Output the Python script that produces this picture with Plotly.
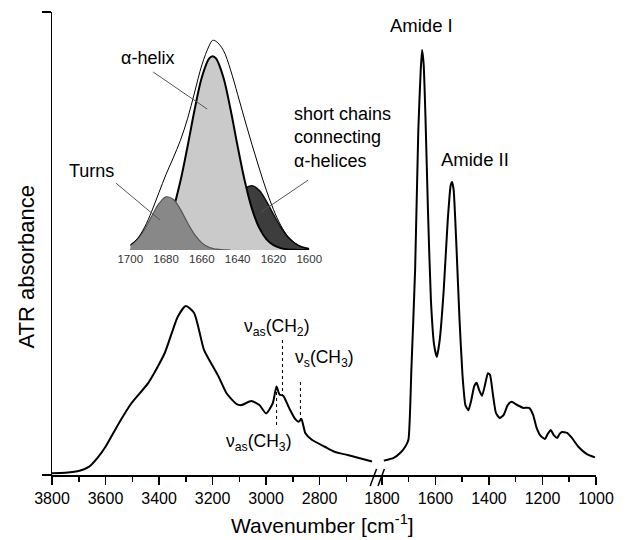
import numpy as np
import plotly.graph_objects as go

# ---------------- data ----------------
# left part of spectrum (3800 - 2600 cm-1)
wn_left = [3800, 3750, 3697, 3661, 3630, 3600, 3550, 3502, 3440, 3379, 3330, 3300,
           3269, 3232, 3209, 3177, 3147, 3110, 3092, 3055, 3025, 3000, 2975, 2961,
           2950, 2936, 2914, 2890, 2878, 2868, 2853, 2829, 2780, 2743, 2695, 2604]
abs_left = [0.004, 0.005, 0.009, 0.018, 0.037, 0.061, 0.112, 0.156, 0.199, 0.263, 0.342, 0.365,
            0.350, 0.270, 0.245, 0.212, 0.176, 0.153, 0.151, 0.160, 0.151, 0.133, 0.155, 0.191,
            0.174, 0.171, 0.145, 0.120, 0.115, 0.121, 0.090, 0.076, 0.061, 0.050, 0.043, 0.029]

# right part of spectrum (1800 - 1000 cm-1)
wn_right = [1793, 1756, 1731, 1713, 1701, 1690, 1676, 1664, 1655, 1650, 1644, 1637, 1628,
            1617, 1605, 1595, 1584, 1569, 1554, 1543, 1538, 1532, 1521, 1510, 1499, 1488,
            1477, 1466, 1455, 1446, 1437, 1426, 1415, 1404, 1396, 1385, 1374, 1360, 1345,
            1330, 1316, 1294, 1272, 1250, 1235, 1222, 1206, 1191, 1180, 1169, 1158, 1145,
            1136, 1127, 1108, 1090, 1066, 1034, 1004]
abs_right = [0.031, 0.037, 0.048, 0.061, 0.076, 0.227, 0.443, 0.745, 0.875, 0.918, 0.886, 0.767, 0.572,
             0.378, 0.281, 0.255, 0.292, 0.400, 0.551, 0.626, 0.633, 0.616, 0.486, 0.335, 0.216, 0.151,
             0.140, 0.162, 0.192, 0.199, 0.184, 0.171, 0.194, 0.220, 0.216, 0.173, 0.134, 0.123, 0.130,
             0.151, 0.158, 0.151, 0.145, 0.145, 0.130, 0.102, 0.084, 0.078, 0.089, 0.097, 0.086, 0.080,
             0.089, 0.093, 0.091, 0.080, 0.061, 0.045, 0.038]

# inset: band components of Amide I
wn_inset = [1700, 1696, 1692, 1688, 1684, 1680, 1676, 1672, 1668, 1664, 1660, 1656, 1654,
            1652, 1648, 1644, 1640, 1636, 1632, 1628, 1624, 1620, 1616, 1612, 1608, 1604, 1600]
helix = [0.001, 0.003, 0.009, 0.023, 0.052, 0.106, 0.195, 0.326, 0.491, 0.668, 0.820, 0.908, 0.920,
         0.908, 0.820, 0.668, 0.491, 0.326, 0.195, 0.106, 0.052, 0.023, 0.009, 0.003, 0.001, 0.000, 0.000]
turns = [0.022, 0.051, 0.099, 0.161, 0.220, 0.252, 0.241, 0.193, 0.129, 0.073, 0.034, 0.013, 0.008,
         0.004, 0.001, 0.000, None, None, None, None, None, None, None, None, None, None, None]
chains = [None, None, None, None, None, None, None, 0.001, 0.003, 0.007, 0.017, 0.038, 0.054,
          0.072, 0.123, 0.185, 0.247, 0.291, 0.305, 0.283, 0.232, 0.169, 0.109, 0.062, 0.032, 0.014, 0.006]
envelope = [0.023, 0.054, 0.108, 0.184, 0.272, 0.359, 0.437, 0.520, 0.623, 0.750, 0.878, 0.968, 0.995,
            0.990, 0.948, 0.855, 0.738, 0.617, 0.500, 0.389, 0.284, 0.192, 0.118, 0.065, 0.033, 0.014, 0.006]

major_ticks = [3800, 3600, 3400, 3200, 3000, 2800, 1800, 1600, 1400, 1200, 1000]
minor_ticks = [3700, 3500, 3300, 3100, 2900, 2700, 1700, 1500, 1300, 1100]
inset_ticks = [1700, 1680, 1660, 1640, 1620, 1600]


# broken axis: map wavenumber to a continuous coordinate
def to_u(w):
    w = np.asarray(w, dtype=float)
    return np.where(w >= 2200, 3800 - w, 1233 + (1800 - w))


# page geometry (body margin is removed by the post script)
W, H = 626, 540
PL, PR, PT, PB = 52, 606, 12, 475           # plot area in window pixels
L, T, R, B = PL, PT, W - PR, H - PB
PW, PH = PR - PL, PB - PT


def px(x):
    return (x - PL) / PW


def py(y):
    return (PB - y) / PH


FONT = "Arial, Liberation Sans, sans-serif"

fig = go.Figure()

fig.add_trace(go.Scatter(x=to_u(wn_left), y=abs_left, mode="lines",
                         line=dict(color="black", width=2, shape="spline", smoothing=0.6),
                         hoverinfo="skip", showlegend=False))
fig.add_trace(go.Scatter(x=to_u(wn_right), y=abs_right, mode="lines",
                         line=dict(color="black", width=2, shape="spline", smoothing=0.5),
                         hoverinfo="skip", showlegend=False))

# inset traces
fig.add_trace(go.Scatter(x=wn_inset, y=chains, mode="lines", fill="tozeroy",
                         fillcolor="#3d3d3d", line=dict(color="#111", width=1.5, shape="spline"),
                         xaxis="x2", yaxis="y2", showlegend=False, hoverinfo="skip"))
fig.add_trace(go.Scatter(x=wn_inset, y=helix, mode="lines", fill="tozeroy",
                         fillcolor="#cacaca", line=dict(color="black", width=2, shape="spline"),
                         xaxis="x2", yaxis="y2", showlegend=False, hoverinfo="skip"))
fig.add_trace(go.Scatter(x=wn_inset, y=turns, mode="lines", fill="tozeroy",
                         fillcolor="#888888", line=dict(color="#555", width=1.2, shape="spline"),
                         xaxis="x2", yaxis="y2", showlegend=False, hoverinfo="skip"))
fig.add_trace(go.Scatter(x=wn_inset, y=envelope, mode="lines",
                         line=dict(color="black", width=1, shape="spline"),
                         xaxis="x2", yaxis="y2", showlegend=False, hoverinfo="skip"))

shapes = []
# break marks
for x0, x1 in [(376, 382.5), (384, 390.5)]:
    shapes.append(dict(type="line", xref="paper", yref="paper",
                       x0=px(x0), y0=py(486), x1=px(x1), y1=py(469),
                       line=dict(color="black", width=1.5)))
# dashed marker lines
for (x, y0, y1) in [(280.7, 392, 425), (286.7, 340, 395), (305, 382, 422)]:
    shapes.append(dict(type="line", xref="paper", yref="paper",
                       x0=px(x), y0=py(y0), x1=px(x), y1=py(y1),
                       line=dict(color="black", width=1, dash="dot")))
# leader lines in inset
for (x0, y0, x1, y1) in [(155, 72, 210, 109), (117, 183, 162, 220), (313, 180, 265, 212)]:
    shapes.append(dict(type="line", xref="paper", yref="paper",
                       x0=px(x0), y0=py(y0), x1=px(x1), y1=py(y1),
                       line=dict(color="#555", width=1)))


def ann(text, x, y, size=18, xanchor="center", align="center"):
    return dict(text=text, xref="paper", yref="paper", x=px(x), y=py(y),
                xanchor=xanchor, yanchor="middle", align=align, showarrow=False,
                font=dict(family=FONT, size=size, color="black"))


annotations = [
    ann("Amide I", 428, 25, 18.5),
    ann("Amide II", 483, 159, 18.5),
    ann("α-helix", 149, 58, 18),
    ann("Turns", 92, 171, 18),
    ann("short chains<br>connecting<br>α-helices", 296, 137, 18, xanchor="left", align="left"),
    ann("ν<sub>as</sub>(CH<sub>2</sub>)", 281, 327, 17.5),
    ann("ν<sub>s</sub>(CH<sub>3</sub>)", 330, 358, 17.5),
    ann("ν<sub>as</sub>(CH<sub>3</sub>)", 262, 442, 17.5),
    dict(text="ATR absorbance", xref="paper", yref="paper", x=px(26), y=py(267),
         textangle=-90, showarrow=False, xanchor="center", yanchor="middle",
         font=dict(family=FONT, size=22, color="black")),
    dict(text="Wavenumber [cm<sup>-1</sup>]", xref="paper", yref="paper", x=px(327), y=py(524),
         showarrow=False, xanchor="center", yanchor="middle",
         font=dict(family=FONT, size=21, color="black")),
]

fig.update_layout(
    width=W, height=H,
    margin=dict(l=L, r=R, t=T, b=B),
    paper_bgcolor="white", plot_bgcolor="rgba(0,0,0,0)",
    font=dict(family=FONT, color="black"),
    xaxis=dict(range=[0, float(to_u(1000))], showgrid=False, zeroline=False,
               showline=True, linecolor="black", linewidth=1.5,
               ticks="outside", ticklen=8, tickwidth=1.5, tickcolor="black",
               tickmode="array", tickvals=to_u(major_ticks).tolist(),
               ticktext=[str(t) for t in major_ticks],
               tickfont=dict(family=FONT, size=16, color="black"),
               ticklabeloverflow="allow",
               minor=dict(tickmode="array", tickvals=to_u(minor_ticks).tolist(),
                          ticks="outside", ticklen=5, tickwidth=1.5, tickcolor="black"),
               fixedrange=True),
    yaxis=dict(range=[0, 1], showgrid=False, zeroline=False,
               showline=True, linecolor="black", linewidth=1.5,
               ticks="outside", ticklen=9, tickwidth=1.5, tickcolor="black",
               tickmode="array", tickvals=[0, 1], ticktext=["", ""],
               fixedrange=True),
    xaxis2=dict(domain=[px(131.7), px(314)], anchor="y2", range=[1700, 1600],
                showgrid=False, zeroline=False, showline=False, ticks="",
                tickmode="array", tickvals=inset_ticks,
                tickfont=dict(family=FONT, size=11.5, color="#333"), fixedrange=True),
    yaxis2=dict(domain=[py(250), py(39.3)], anchor="x2", range=[0, 1],
                visible=False, showgrid=False, zeroline=False, fixedrange=True),
    shapes=shapes,
    annotations=annotations,
)

fig.write_html("out.html",
               config={"displayModeBar": False, "staticPlot": True},
               post_script="document.body.style.margin='0px';"
                           "document.body.style.overflow='hidden';")
